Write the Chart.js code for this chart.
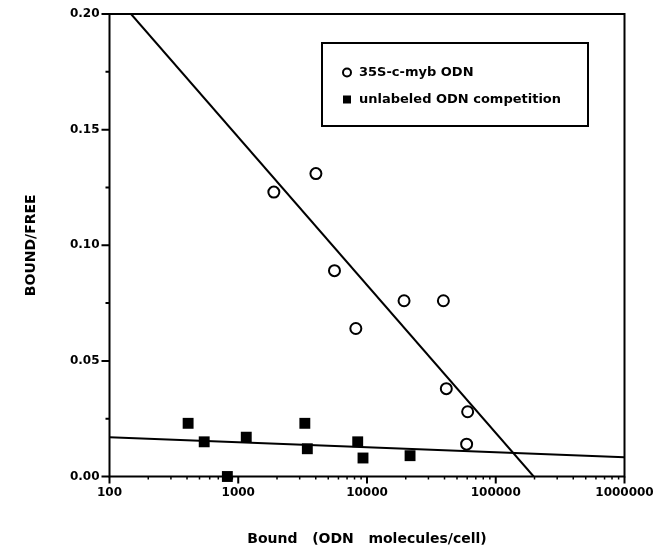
<!DOCTYPE html>
<html><head><meta charset="utf-8">
<style>html,body{margin:0;padding:0;background:#fff;}#wrap{width:656px;height:557px;position:relative;}</style>
<script src="https://cdn.jsdelivr.net/npm/chart.js@4/dist/chart.umd.min.js"></script>
</head><body><div id="wrap"><canvas id="c" width="656" height="557" style="width:656px;height:557px;"></canvas></div>
<script>
// ---- data ----
const labeledX = [1890, 4010, 5590, 8190, 19400, 39200, 41300, 60500, 59400];
const labeledY = [0.123, 0.131, 0.089, 0.064, 0.076, 0.076, 0.038, 0.028, 0.014];
const unlabeledX = [408, 544, 823, 1154, 3290, 3440, 8470, 9310, 21600];
const unlabeledY = [0.023, 0.015, 0.000, 0.017, 0.023, 0.012, 0.015, 0.008, 0.009];
const fit1X = [147, 197000];
const fit1Y = [0.20, 0.0];
const fit2X = [100, 1000000];
const fit2Y = [0.0170, 0.0083];
const xTicks = [100, 1000, 10000, 100000, 1000000];
const yTicks = [0, 0.05, 0.10, 0.15, 0.20];
const yMinorTicks = [0.025, 0.075, 0.125, 0.175];
const seriesNames = ['35S-c-myb ODN', 'unlabeled ODN competition'];
const xTitle = 'Bound   (ODN   molecules/cell)';
const yTitle = 'BOUND/FREE';

const FONT = "'DejaVu Sans', sans-serif";
const BLACK = '#000';
const pts = (xs, ys) => xs.map((x, i) => ({x: x, y: ys[i]}));

const framePlugin = {
  id: 'frame',
  beforeDatasetsDraw(chart) {
    const {ctx, chartArea: a, scales: {x, y}} = chart;
    ctx.save();
    ctx.strokeStyle = BLACK;
    ctx.lineWidth = 2;
    ctx.strokeRect(a.left, a.top, a.right - a.left, a.bottom - a.top);
    ctx.beginPath();
    yTicks.forEach(v => { const p = y.getPixelForValue(v); ctx.moveTo(a.left - 8, p); ctx.lineTo(a.left, p); });
    yMinorTicks.forEach(v => { const p = y.getPixelForValue(v); ctx.moveTo(a.left - 4, p); ctx.lineTo(a.left, p); });
    xTicks.forEach(v => { const p = x.getPixelForValue(v); ctx.moveTo(p, a.bottom); ctx.lineTo(p, a.bottom + 7); });
    ctx.stroke();
    ctx.lineWidth = 1.5;
    ctx.beginPath();
    for (let i = 0; i < xTicks.length - 1; i++) {
      for (let k = 2; k <= 9; k++) {
        const p = x.getPixelForValue(xTicks[i] * k);
        ctx.moveTo(p, a.bottom); ctx.lineTo(p, a.bottom + 3);
      }
    }
    ctx.stroke();
    ctx.restore();
  }
};

const legendPlugin = {
  id: 'boxLegend',
  afterDraw(chart) {
    const ctx = chart.ctx;
    const bx = 322, by = 43, bw = 266, bh = 83;
    ctx.save();
    ctx.strokeStyle = BLACK;
    ctx.lineWidth = 2;
    ctx.strokeRect(bx, by, bw, bh);
    ctx.beginPath();
    ctx.arc(bx + 25, by + 29.5, 4, 0, Math.PI * 2);
    ctx.fillStyle = '#fff';
    ctx.fill();
    ctx.stroke();
    ctx.fillStyle = BLACK;
    ctx.fillRect(bx + 21, by + 52.5, 8, 8);
    ctx.font = "bold 13px " + FONT;
    ctx.textBaseline = 'middle';
    ctx.textAlign = 'left';
    ctx.fillText(chart.data.datasets[0].label, bx + 37, by + 29.5);
    ctx.fillText(chart.data.datasets[1].label, bx + 37, by + 56.5);
    ctx.restore();
  }
};

const hiddenTicks = (len) => ({display: true, drawOnChartArea: false, drawTicks: true, tickLength: len, color: 'rgba(0,0,0,0)'});

new Chart(document.getElementById('c'), {
  type: 'scatter',
  data: {
    datasets: [
      {label: seriesNames[0], data: pts(labeledX, labeledY), pointStyle: 'circle', pointRadius: 5.5,
       pointBorderWidth: 2, borderColor: BLACK, backgroundColor: '#fff', showLine: false, clip: false, order: 1},
      {label: seriesNames[1], data: pts(unlabeledX, unlabeledY), pointStyle: 'rect', pointRadius: 7.7,
       pointBorderWidth: 0, borderColor: BLACK, backgroundColor: BLACK, showLine: false, clip: false, order: 1},
      {label: 'fit1', data: pts(fit1X, fit1Y), showLine: true, pointRadius: 0, borderColor: BLACK,
       borderWidth: 2, fill: false, order: 2},
      {label: 'fit2', data: pts(fit2X, fit2Y), showLine: true, pointRadius: 0, borderColor: BLACK,
       borderWidth: 2, fill: false, order: 2}
    ]
  },
  options: {
    responsive: false,
    maintainAspectRatio: false,
    animation: false,
    events: [],
    devicePixelRatio: 1,
    layout: {padding: {left: 0, right: 31.5, top: 14, bottom: 0}},
    plugins: {legend: {display: false}, tooltip: {enabled: false}},
    scales: {
      x: {
        type: 'logarithmic', min: 100, max: 1000000, position: 'bottom',
        afterBuildTicks: s => { s.ticks = xTicks.map(v => ({value: v})); },
        afterFit: s => { s.height = 80.5; },
        ticks: {callback: v => String(v), font: {family: FONT, weight: 'bold', size: 12}, color: BLACK,
                padding: 2, maxRotation: 0, minRotation: 0, autoSkip: false},
        grid: hiddenTicks(7),
        border: {display: false},
        title: {display: true, text: xTitle, color: BLACK, font: {family: FONT, weight: 'bold', size: 14},
                padding: {top: 0, bottom: 9}}
      },
      y: {
        type: 'linear', min: 0, max: 0.2, position: 'left',
        afterBuildTicks: s => { s.ticks = yTicks.map(v => ({value: v})); },
        afterFit: s => { s.width = 109.5; },
        ticks: {callback: v => Number(v).toFixed(2), font: {family: FONT, weight: 'bold', size: 12}, color: BLACK,
                padding: 2, autoSkip: false},
        grid: hiddenTicks(8),
        border: {display: false},
        title: {display: true, text: yTitle, color: BLACK, font: {family: FONT, weight: 'bold', size: 14},
                padding: {top: 22.6, bottom: 0}}
      }
    }
  },
  plugins: [framePlugin, legendPlugin]
});
</script>
</body></html>
